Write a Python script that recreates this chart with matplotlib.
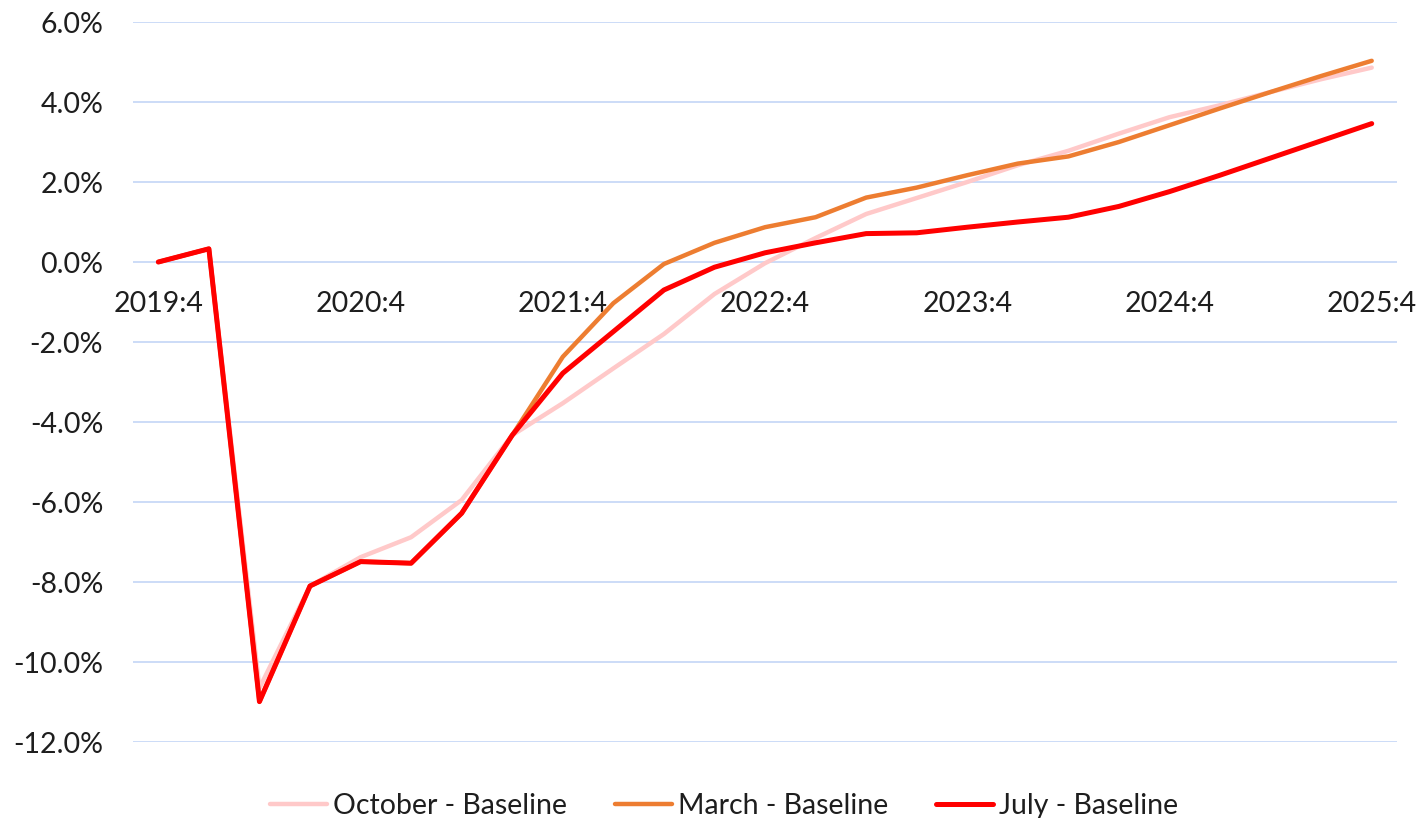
import matplotlib
matplotlib.use('Agg')
import matplotlib.pyplot as plt
from matplotlib.ticker import FuncFormatter

# quarters 2019:4 .. 2025:4
quarters = ['2019:4', '2020:1', '2020:2', '2020:3', '2020:4',
            '2021:1', '2021:2', '2021:3', '2021:4',
            '2022:1', '2022:2', '2022:3', '2022:4',
            '2023:1', '2023:2', '2023:3', '2023:4',
            '2024:1', '2024:2', '2024:3', '2024:4',
            '2025:1', '2025:2', '2025:3', '2025:4']

october = [0.0, 0.33, -10.65, -8.1, -7.38, -6.88, -5.95, -4.33, -3.53,
           -2.66, -1.8, -0.8, -0.03, 0.6, 1.2, 1.6, 2.0, 2.42, 2.78,
           3.21, 3.62, 3.92, 4.25, 4.57, 4.86]
march = [0.0, 0.33, -10.99, -8.1, -7.49, -7.53, -6.28, -4.33, -2.37,
         -1.03, -0.05, 0.48, 0.87, 1.12, 1.61, 1.86, 2.17, 2.46, 2.64,
         3.0, 3.42, 3.84, 4.25, 4.65, 5.03]
july = [0.0, 0.33, -10.99, -8.1, -7.49, -7.53, -6.28, -4.33, -2.78,
        -1.74, -0.7, -0.13, 0.23, 0.48, 0.71, 0.73, 0.87, 1.0, 1.12,
        1.39, 1.76, 2.17, 2.6, 3.03, 3.46]

plt.rcParams['font.family'] = ['Lato', 'DejaVu Sans']

fig = plt.figure(figsize=(14.2, 8.18), dpi=100)
ax = fig.add_axes([0.0937, 0.0929, 0.8901, 0.8802])

x = list(range(len(quarters)))
ax.plot(x, october, color='#FFC9C9', linewidth=3.2, solid_capstyle='round',
        solid_joinstyle='round', label='October - Baseline')
ax.plot(x, march, color='#ED7D31', linewidth=3.2, solid_capstyle='round',
        solid_joinstyle='round', label='March - Baseline')
ax.plot(x, july, color='#FF0000', linewidth=3.6, solid_capstyle='round',
        solid_joinstyle='round', label='July - Baseline')

ax.set_xlim(-0.5, len(quarters) - 0.5)
ax.set_ylim(-12, 6)
ax.set_yticks(range(-12, 7, 2))
ax.yaxis.set_major_formatter(FuncFormatter(lambda v, p: f'{v:.1f}%'))
ax.grid(axis='y', color='#C8D9F7', linewidth=1.3)
ax.set_axisbelow(True)

ax.set_xticks(x[::4])
ax.set_xticklabels(quarters[::4])
ax.spines['bottom'].set_position(('data', 0))
for s in ['top', 'right', 'left', 'bottom']:
    ax.spines[s].set_visible(False)
ax.tick_params(axis='both', length=0, labelsize=20.5, colors='#1E1E1E')
ax.tick_params(axis='x', pad=21)
ax.tick_params(axis='y', pad=21.5)

ax.legend(loc='upper center', bbox_to_anchor=(0.4676, -0.035), ncol=3,
          frameon=False, fontsize=20.5, handlelength=2.0, handletextpad=0.2,
          columnspacing=1.7, labelcolor='#1E1E1E')

plt.savefig('out.png', dpi=100)
